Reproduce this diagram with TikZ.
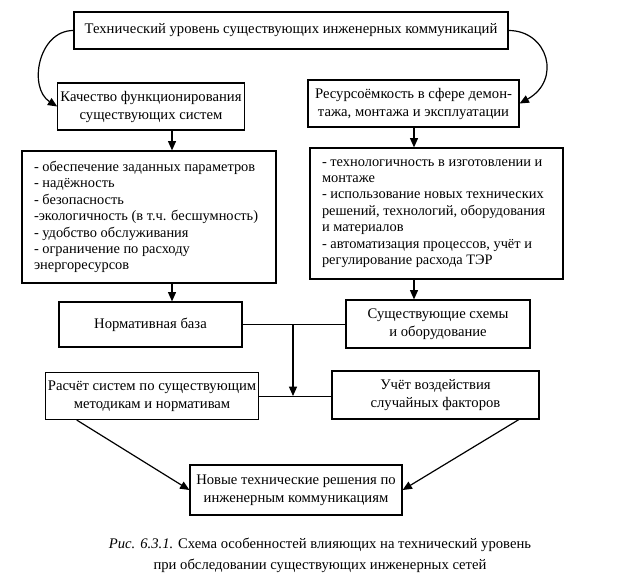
\documentclass[tikz,border=0pt]{standalone}
\usepackage{fontspec}
\setmainfont{Liberation Serif}
\usetikzlibrary{arrows.meta,calc}
\tikzset{every picture/.style={line width=0.75pt}}
\tikzset{
  box/.style={draw, line width=0.9pt, align=center, inner sep=2pt, font=\fontsize{11}{13.5}\selectfont},
  listbox/.style={draw, line width=0.9pt, align=flush left, inner xsep=9pt, font=\fontsize{10.8}{12.3}\selectfont},
  arr/.style={-{Triangle[length=7pt,width=6pt]}, line width=0.9pt}
}

\begin{document}
\begin{tikzpicture}[x=0.75pt,y=0.75pt,yscale=-1,xscale=1]
\useasboundingbox (0,0) rectangle (620,585);

%Shape: Rectangle [top]
\node[box, minimum width=325.5pt, minimum height=27.75pt] (techlevel) at (291,30.5) {Технический уровень существующих инженерных коммуникаций};
%Shape: Rectangle [second row]
\node[box, minimum width=130.5pt, minimum height=35.25pt] (quality) at (151,106.5) {Качество функционирования\\существующих систем};
\node[box, minimum width=158.25pt, minimum height=35.25pt] (resource) at (413.5,103.5) {Ресурсоёмкость в сфере демон-\\тажа, монтажа и эксплуатации};
%Shape: Rectangle [lists]
\node[listbox, text width=172.5pt, minimum height=99pt] (listQ) at (149,217) {- обеспечение заданных параметров\\- надёжность\\- безопасность\\-экологичность (в т.ч. бесшумность)\\- удобство обслуживания\\- ограничение по расходу\\энергоресурсов};
\node[listbox, text width=171.75pt, minimum height=98.25pt] (listR) at (436.5,213.5) {- технологичность в изготовлении и\\монтаже\\- использование новых технических\\решений, технологий, оборудования\\и материалов\\- автоматизация процессов, учёт и\\регулирование расхода ТЭР};
%Shape: Rectangle [base]
\node[box, minimum width=137.25pt, minimum height=33.75pt] (normbase) at (150.5,324.5) {Нормативная база};
\node[box, minimum width=138pt, minimum height=36pt] (schemes) at (438,324) {Существующие схемы\\и оборудование};
%Shape: Rectangle [calculation]
\node[box, minimum width=157.5pt, minimum height=35.25pt] (calcsys) at (152,396) {Расчёт систем по существующим\\методикам и нормативам};
\node[box, minimum width=155.25pt, minimum height=36pt] (randf) at (435.5,395) {Учёт воздействия\\случайных факторов};
%Shape: Rectangle [result]
\node[box, minimum width=159pt, minimum height=37.5pt] (newsol) at (296,490) {Новые технические решения по\\инженерным коммуникациям};

%Curve Lines
\draw[arr] (techlevel.west) .. controls (38,30.5) and (28,88) .. (quality.west);
\draw[arr] (techlevel.east) .. controls (548,30.5) and (562,80) .. (resource.east);

%Straight Lines
\coordinate (colL) at (172,0);
\coordinate (colR) at (414,0);
\draw[arr] (quality.south -| colL) -- (listQ.north -| colL);
\draw[arr] (listQ.south -| colL) -- (normbase.north -| colL);
\draw[arr] (resource.south -| colR) -- (listR.north -| colR);
\draw[arr] (listR.south -| colR) -- (schemes.north -| colR);

\draw (normbase.east) -- (normbase.east -| schemes.west);
\coordinate (joint) at (293,324.5);
\draw[arr] (joint) -- (joint |- calcsys.east);
\draw (calcsys.east) -- (calcsys.east -| randf.west);

\draw[arr] ($(calcsys.south west)!0.15!(calcsys.south east)$) -- (newsol.west);
\draw[arr] ($(randf.south west)!0.9!(randf.south east)$) -- (newsol.east);

\node[align=center, font=\fontsize{11}{16}\selectfont] (caption) at (320,555) {\textit{Рис. 6.3.1.} Схема особенностей влияющих на технический уровень\\при обследовании существующих инженерных сетей};
\end{tikzpicture}
\end{document}
